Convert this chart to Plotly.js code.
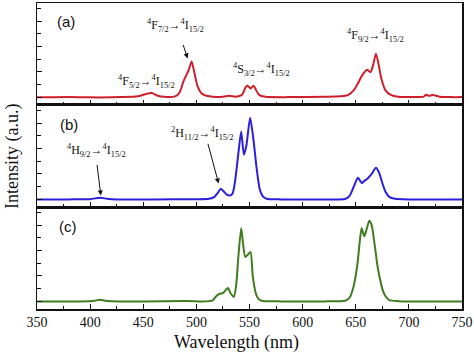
<!DOCTYPE html>
<html>
<head>
<meta charset="utf-8">
<script src="https://cdn.plot.ly/plotly-3.0.1.min.js"></script>
<style>html,body{margin:0;padding:0;background:#fff;}#chart{width:474px;height:353px;}</style>
</head>
<body>
<div id="chart"></div>
<script>
// Panel (a) – red
const wlA = [350, 380, 400, 430, 445, 452, 458, 463, 470, 480, 484, 488, 490, 493, 495.5, 498, 501, 505, 512, 525, 531, 537, 543, 546, 548, 551, 554, 556, 559, 565, 590, 620, 636, 643, 648, 652, 656, 660.5, 664, 666.5, 669, 671.5, 674, 678, 683, 690, 705, 714, 716, 719, 722, 725, 729, 740, 750];
const intA = [0, 0.03, 0, 0.02, 0.08, 0.25, 0.34, 0.15, 0.04, 0.08, 0.35, 1.3, 1.65, 2.2, 2.83, 2.0, 0.9, 0.3, 0.08, 0.05, 0.12, 0.05, 0.2, 0.75, 0.94, 0.7, 0.92, 0.6, 0.2, 0.05, 0.02, 0.05, 0.08, 0.2, 0.55, 1.1, 1.73, 2.18, 1.99, 2.6, 3.44, 2.6, 1.5, 0.55, 0.2, 0.05, 0.03, 0.06, 0.2, 0.12, 0.18, 0.15, 0.05, 0.02, 0.02];
// Panel (b) – blue
const wlB = [350, 380, 400, 405, 410, 416, 425, 460, 500, 512, 517, 520, 523, 526, 529, 531.5, 534, 536, 538, 540, 542.2, 544.7, 547, 550.6, 553.8, 556.5, 559.4, 562, 566, 580, 620, 640, 644, 648.6, 652, 655.8, 658, 661, 665, 669, 672, 675.2, 678, 681.5, 687, 700, 750];
const intB = [0, 0, 0.02, 0.08, 0.12, 0.05, 0, 0, 0.01, 0.05, 0.2, 0.5, 0.84, 0.6, 0.35, 0.31, 0.45, 1.2, 2.5, 4.0, 5.35, 3.52, 4.2, 6.43, 4.65, 2.6, 0.87, 0.3, 0.05, 0, 0, 0.03, 0.25, 1.1, 1.7, 1.28, 1.45, 1.63, 2.0, 2.5, 2.1, 1.23, 0.6, 0.2, 0.05, 0, 0];
// Panel (c) – green
const wlC = [350, 400, 404, 409, 414, 420, 450, 490, 505, 512, 515.5, 518, 521.8, 525, 529.6, 532.5, 535.3, 537.5, 539.5, 542.2, 544, 546, 548.4, 551, 553.1, 556.3, 559, 562.5, 580, 620, 640, 644, 648, 651.7, 653.5, 655.5, 658, 660, 662.7, 665, 667.4, 670.5, 673, 675.2, 678, 681.5, 690, 750];
const intC = [0, 0.02, 0.05, 0.13, 0.05, 0.02, 0, 0.03, 0, 0.02, 0.08, 0.35, 0.6, 0.65, 1.05, 0.6, 0.35, 1.3, 3.5, 5.78, 4.5, 3.5, 3.68, 3.89, 1.97, 0.53, 0.15, 0.03, 0, 0, 0.05, 0.27, 1.2, 3.02, 4.5, 5.78, 5.12, 5.6, 6.35, 6.0, 4.7, 2.76, 1.7, 0.92, 0.4, 0.1, 0.02, 0];

const xTickVals = [350, 400, 450, 500, 550, 600, 650, 700, 750];
const xTickText = ['350', '400', '450', '500', '550', '600', '650', '700', '750'];
const panelLabels = ['(a)', '(b)', '(c)'];
const xTitle = 'Wavelength (nm)';
const yTitle = 'Intensity (a.u.)';

const serif = '"Liberation Serif", "Times New Roman", serif';
const sans = '"Liberation Sans", Arial, sans-serif';

function tr(x, y, xa, ya, color) {
  return {x: x, y: y, xaxis: xa, yaxis: ya, type: 'scatter', mode: 'lines',
    line: {color: color, width: 2, shape: 'spline', smoothing: 0.6}, hoverinfo: 'skip', showlegend: false};
}
const data = [
  tr(wlA, intA, 'x3', 'y', '#cf1f2b'),
  tr(wlB, intB, 'x2', 'y2', '#2a1fdc'),
  tr(wlC, intC, 'x', 'y3', '#3f7c1f')
];

const yRange = [-0.6, 7.43];
function yax(domain, anchor) {
  return {domain: domain, anchor: anchor, range: yRange, showgrid: false, zeroline: false,
    showline: true, mirror: true, linecolor: '#111', linewidth: 1.5,
    ticks: 'inside', tickcolor: '#111', ticklen: 5, tickwidth: 1, tick0: 0, dtick: 2, showticklabels: false,
    minor: {ticks: 'inside', ticklen: 4, tickcolor: '#111', dtick: 1, tick0: 0, showgrid: false}, fixedrange: true};
}
function xax(anchor, labels) {
  return {anchor: anchor, range: [350, 750], showgrid: false, zeroline: false,
    showline: true, mirror: true, linecolor: '#111', linewidth: 1.5,
    ticks: 'inside', tickcolor: '#111', ticklen: 5, tickwidth: 1,
    tickmode: 'array', tickvals: xTickVals, ticktext: xTickText,
    showticklabels: labels, tickfont: {family: serif, size: 14, color: '#111'},
    minor: {ticks: 'inside', ticklen: 3, tickcolor: '#111', dtick: 25, tick0: 350, showgrid: false}, fixedrange: true};
}

function lab(txt, x, y, xref, yref) {
  return {text: txt, x: x, y: y, xref: xref, yref: yref, showarrow: false,
    font: {family: serif, size: 12, color: '#111'}, xanchor: 'center', yanchor: 'middle'};
}
function arrow(x, y, ax, ay, xref, yref) {
  return {text: '', x: x, y: y, xref: xref, yref: yref, showarrow: true, ax: ax, ay: ay,
    arrowhead: 2, arrowsize: 1, arrowwidth: 1, arrowcolor: '#111'};
}

const annotations = [
  {text: panelLabels[0], x: 377, y: 6.0, xref: 'x3', yref: 'y', showarrow: false, font: {family: sans, size: 15, color: '#111'}},
  {text: panelLabels[1], x: 380, y: 5.9, xref: 'x2', yref: 'y2', showarrow: false, font: {family: sans, size: 15, color: '#111'}},
  {text: panelLabels[2], x: 379, y: 5.9, xref: 'x', yref: 'y3', showarrow: false, font: {family: sans, size: 15, color: '#111'}},
  lab('<sup>4</sup>F<sub>7/2</sub>→<sup>4</sup>I<sub>15/2</sub>', 480.5, 5.67, 'x3', 'y'),
  lab('<sup>4</sup>F<sub>5/2</sub>→<sup>4</sup>I<sub>15/2</sub>', 453, 1.26, 'x3', 'y'),
  lab('<sup>4</sup>S<sub>3/2</sub>→<sup>4</sup>I<sub>15/2</sub>', 561, 2.2, 'x3', 'y'),
  lab('<sup>4</sup>F<sub>9/2</sub>→<sup>4</sup>I<sub>15/2</sub>', 668.3, 4.88, 'x3', 'y'),
  lab('<sup>4</sup>H<sub>9/2</sub>→<sup>4</sup>I<sub>15/2</sub>', 406, 3.86, 'x2', 'y2'),
  lab('<sup>2</sup>H<sub>11/2</sub>→<sup>4</sup>I<sub>15/2</sub>', 506, 5.2, 'x2', 'y2'),
  arrow(491.8, 3.07, -5, -15, 'x3', 'y'),
  arrow(410.1, 0.31, -4, -32, 'x2', 'y2'),
  arrow(520.9, 1.26, -11, -41, 'x2', 'y2'),
  {text: yTitle, x: -0.059, y: 0.5, xref: 'paper', yref: 'paper', showarrow: false, textangle: -90,
    font: {family: serif, size: 18, color: '#111'}, xanchor: 'center', yanchor: 'middle'},
  {text: xTitle, x: 0.47, y: -0.111, xref: 'paper', yref: 'paper', showarrow: false,
    font: {family: serif, size: 18, color: '#111'}, xanchor: 'center', yanchor: 'middle'}
];

const layout = {
  width: 474, height: 353,
  font: {family: serif, size: 14, color: '#111'},
  margin: {l: 37, r: 12, t: 3, b: 44, pad: 0},
  paper_bgcolor: '#fff', plot_bgcolor: '#fff',
  xaxis: xax('y3', true),
  xaxis2: Object.assign(xax('y2', false), {matches: 'x'}),
  xaxis3: Object.assign(xax('y', false), {matches: 'x'}),
  yaxis: yax([0.6667, 1], 'x3'),
  yaxis2: yax([0.3333, 0.6667], 'x2'),
  yaxis3: yax([0, 0.3333], 'x'),
  annotations: annotations,
  showlegend: false
};

Plotly.newPlot('chart', data, layout, {staticPlot: true, displayModeBar: false});
</script>
</body>
</html>
